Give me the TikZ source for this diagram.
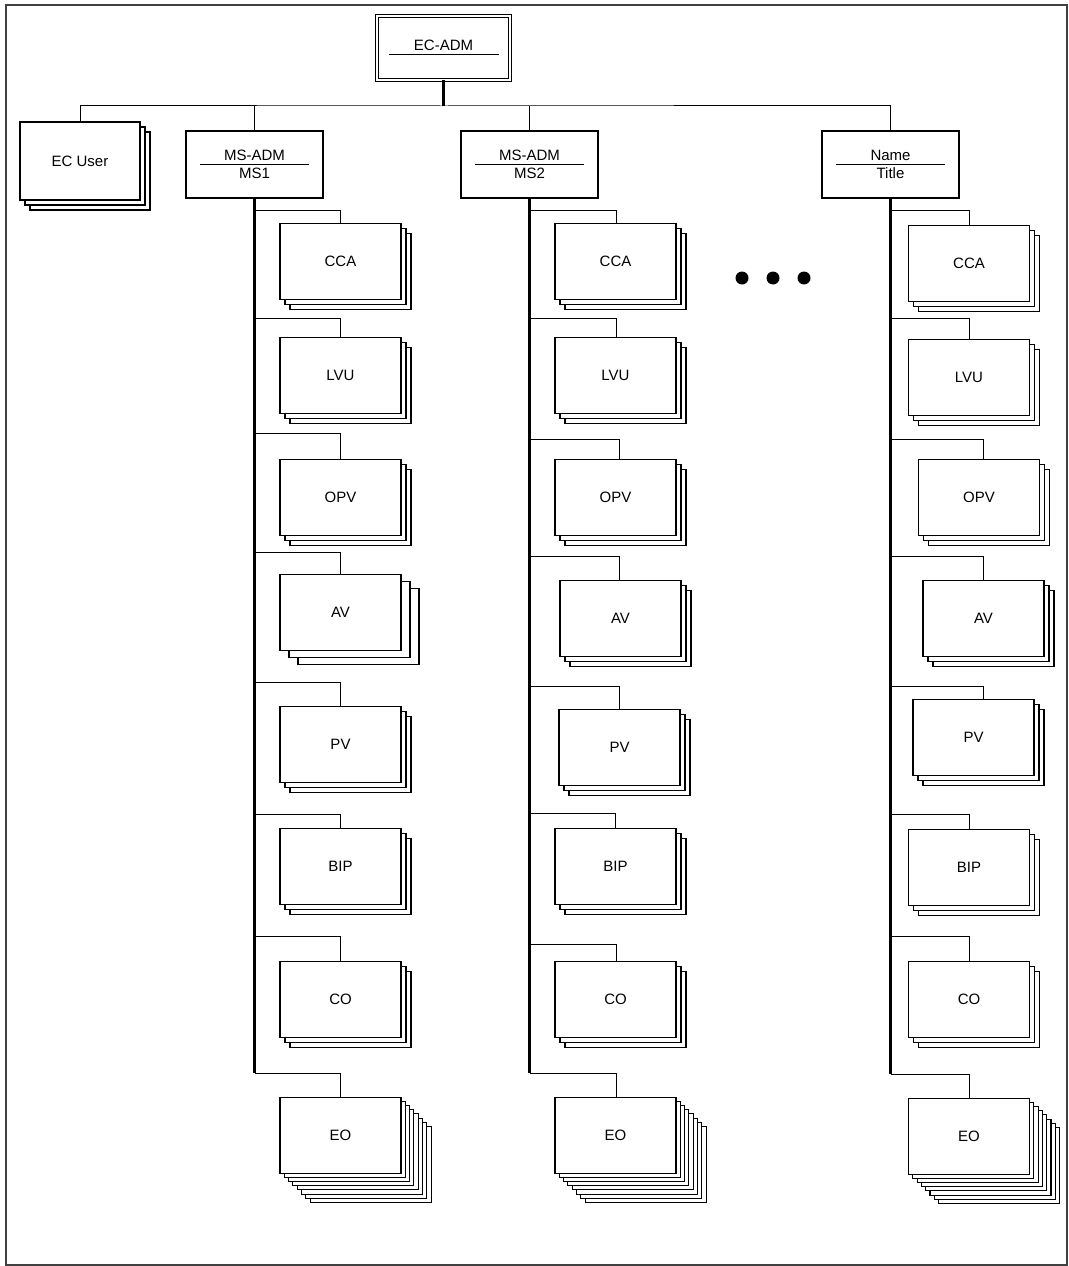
\documentclass[tikz,border=0pt]{standalone}
\usepackage{fontspec}
\setmainfont{Liberation Sans}
\usetikzlibrary{positioning}
\tikzset{
  card/.style = {
    rectangle, draw=black, fill=white, line width=0.8pt,
    minimum width=90.75pt, minimum height=57pt, inner sep=0pt,
    font=\fontsize{11.25pt}{13pt}\selectfont
  },
  hbox/.style = {
    rectangle, draw=black, fill=white, line width=0.8pt,
    minimum width=102.75pt, minimum height=50.25pt, inner sep=0pt
  },
  topbox/.style = {
    rectangle, draw=black, double, double distance=1.5pt,
    line width=0.75pt, minimum width=99.75pt, minimum height=48pt,
    inner sep=0pt
  },
  htext/.style = {inner sep=0pt, anchor=base,
    font=\fontsize{11.25pt}{13pt}\selectfont},
  link/.style  = {line width=0.75pt},
  spine/.style = {line width=1.6pt},
  dot/.style   = {circle, fill=black, minimum size=9.75pt, inner sep=0pt},
  frame/.style = {draw=black!75, line width=1pt}
}
% box with a rule between two lines of text
\newcommand{\headbox}[5]{%
  \node[hbox] (#1) at (#2,#3) {};
  \draw[link] (#1.center) ++(-54.5,0) -- ++(109,0);
  \path (#1.center) ++(0,-3.5) node[htext] (#1top) {#4};
  \path (#1.center) ++(0,14.5) node[htext] (#1bot) {#5};
}
\begin{document}
\begin{tikzpicture}[x=0.75pt, y=-0.75pt]
\useasboundingbox (0,0) rectangle (1069,1266);
\draw[frame] (6,5) rectangle (1067,1265);

%% Top
\node[topbox] (ecadm) at (443.5,47.6) {};
\draw[link] (ecadm.center) ++(-55,7.4) -- ++(110,0);
\path (ecadm.center) ++(0,3) node[htext] (ecadmtop) {EC-ADM};

%% Second row
\foreach \k in {2,1}
  \node[card, minimum width=90pt, minimum height=58.5pt]
    (ecuser\k) at (80+\k*5,161+\k*5) {};
\node[card, minimum width=90pt, minimum height=58.5pt]
  (ecuser) at (80,161) {EC User};
\headbox{ms1}{254.5}{164.5}{MS-ADM}{MS1}
\headbox{ms2}{529.5}{164.5}{MS-ADM}{MS2}
\headbox{namebox}{890.5}{164.5}{Name}{Title}

\draw[spine] (ecadm.south) -- (ecadm.south |- 0,106) coordinate (bus);
\draw[link] (ecuser.north) |- (bus) -| (namebox.north);
\draw[link] (ms1.north) -- (ms1.north |- bus);
\draw[link] (ms2.north) -- (ms2.north |- bus);

%% Column MS1
\foreach \lab/\cx/\ty/\by/\jx/\n/\dx/\dy in {
    CCA/340.5/223/211/340/2/5/5, LVU/340.5/337/318/340/2/5/5,
    OPV/340.5/459/433/340/2/5/5, AV/340.5/574/552/340/2/9/7,
    PV/340.5/706/682/340/2/5/5,  BIP/340.5/828/814/340/2/5/5,
    CO/340.5/961/936/340/2/5/5,  EO/340.5/1097/1073/340/7/4.3/4.1}{
  \foreach \k in {\n,...,1}
    \node[card, anchor=north] (a\lab\k) at (\cx+\k*\dx,\ty+\k*\dy) {};
  \node[card, anchor=north] (a\lab) at (\cx,\ty) {\lab};
  \draw[link] (a\lab.north -| \jx,0) |- (ms1 |- 0,\by);
}
\draw[spine] (ms1.south) -- (ms1 |- 0,1073);

%% Column MS2
\foreach \lab/\cx/\ty/\by/\jx/\n/\dx/\dy in {
    CCA/615.5/223/211/616/2/5/5, LVU/615.5/337/318/616/2/5/5,
    OPV/615.5/459/439/619/2/5/5, AV/620.5/580/556/619/2/5/5,
    PV/619.5/709/686/619/2/5/5,  BIP/615.5/828/813/615/2/5/5,
    CO/615.5/961/944/616/2/5/5,  EO/615.5/1097/1073/616/7/4.3/4.1}{
  \foreach \k in {\n,...,1}
    \node[card, anchor=north] (b\lab\k) at (\cx+\k*\dx,\ty+\k*\dy) {};
  \node[card, anchor=north] (b\lab) at (\cx,\ty) {\lab};
  \draw[link] (b\lab.north -| \jx,0) |- (ms2 |- 0,\by);
}
\draw[spine] (ms2.south) -- (ms2 |- 0,1073);

%% Column Name
\foreach \lab/\cx/\ty/\by/\jx/\n/\dx/\dy in {
    CCA/969/225/211/969/2/5/5,   LVU/969/339/318/969/2/5/5,
    OPV/979/459/439/983/2/5/5,   AV/983.5/580/556/983/2/5/5,
    PV/973.5/699/686/983/2/5/5,  BIP/969/829/814/969/2/5/5,
    CO/969/961/936/969/2/5/5,    EO/969/1098/1074/969/7/4.3/4.1}{
  \foreach \k in {\n,...,1}
    \node[card, anchor=north] (c\lab\k) at (\cx+\k*\dx,\ty+\k*\dy) {};
  \node[card, anchor=north] (c\lab) at (\cx,\ty) {\lab};
  \draw[link] (c\lab.north -| \jx,0) |- (namebox |- 0,\by);
}
\draw[spine] (namebox.south) -- (namebox |- 0,1074);

%% More columns
\foreach \i/\x in {1/742, 2/773, 3/804}
  \node[dot] (dot\i) at (\x,278) {};

\end{tikzpicture}
\end{document}
